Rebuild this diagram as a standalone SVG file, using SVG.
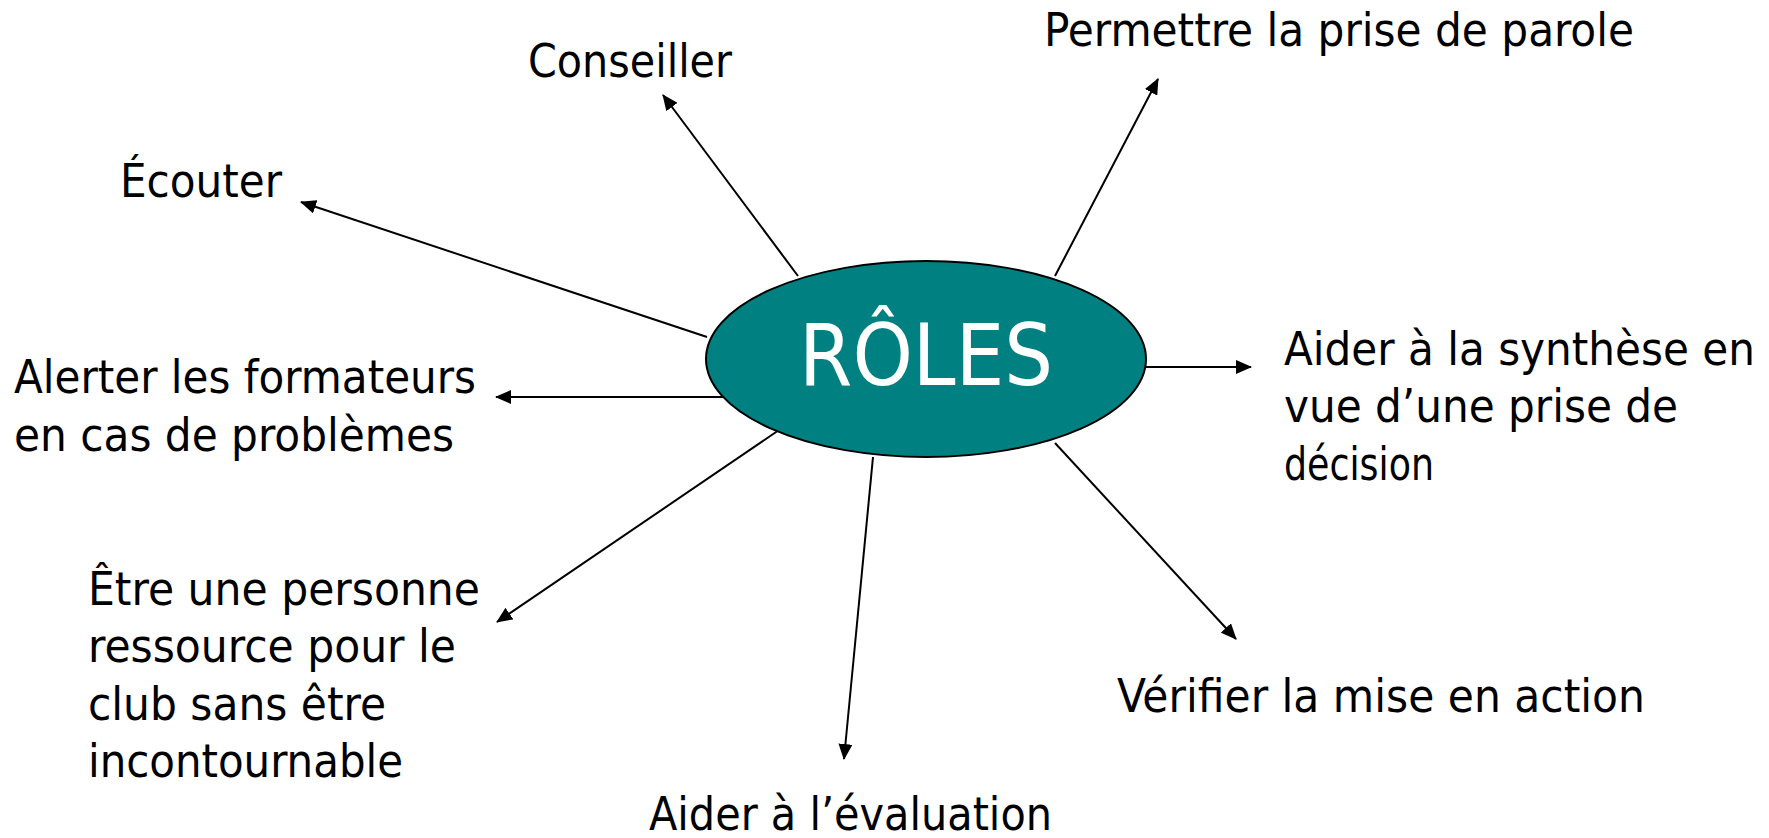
<svg xmlns="http://www.w3.org/2000/svg" width="1769" height="838" viewBox="0 0 1769 838">
<style>
.t{font-family:"DejaVu Sans Condensed","DejaVu Sans",sans-serif;font-size:47px;fill:#000}
.c{font-family:"DejaVu Sans Condensed","DejaVu Sans",sans-serif;font-size:86px;fill:#fff}
.e{stroke:#000;stroke-width:2;fill:none;marker-end:url(#ah)}
</style>
<defs>
<marker id="ah" markerUnits="userSpaceOnUse" markerWidth="16" markerHeight="14" refX="15" refY="7" orient="auto" viewBox="0 0 16 14">
<path d="M0,0 L16,7 L0,14 z" fill="#000"/>
</marker>
</defs>
<rect width="1769" height="838" fill="#fff"/>
<g id="connectors">
<line class="e" x1="798" y1="276" x2="663" y2="95"/>
<line class="e" x1="707" y1="337" x2="301" y2="202"/>
<line class="e" x1="1055" y1="276" x2="1158" y2="79"/>
<line class="e" x1="1146" y1="367" x2="1251" y2="367"/>
<line class="e" x1="723" y1="397" x2="496" y2="397"/>
<line class="e" x1="782" y1="428" x2="497" y2="622"/>
<line class="e" x1="873" y1="457" x2="844" y2="759"/>
<line class="e" x1="1055" y1="443" x2="1236" y2="639"/>
</g>
<g id="center">
<ellipse cx="926" cy="359" rx="220" ry="98" fill="#008080" stroke="#000" stroke-width="2"/>
<text class="c" x="799" y="385" textLength="254" lengthAdjust="spacingAndGlyphs">RÔLES</text>
</g>
<g id="conseiller"><text class="t" x="528" y="77" textLength="204" lengthAdjust="spacingAndGlyphs">Conseiller</text></g>
<g id="ecouter"><text class="t" x="120" y="197" textLength="162" lengthAdjust="spacingAndGlyphs">Écouter</text></g>
<g id="permettre"><text class="t" x="1044" y="46" textLength="590" lengthAdjust="spacingAndGlyphs">Permettre la prise de parole</text></g>
<g id="synthese">
<text class="t" x="1284" y="365" textLength="471" lengthAdjust="spacingAndGlyphs">Aider à la synthèse en</text>
<text class="t" x="1284" y="422" textLength="394" lengthAdjust="spacingAndGlyphs">vue d’une prise de</text>
<text class="t" x="1284" y="480" textLength="150" lengthAdjust="spacingAndGlyphs">décision</text>
</g>
<g id="alerter">
<text class="t" x="14" y="393" textLength="462" lengthAdjust="spacingAndGlyphs">Alerter les formateurs</text>
<text class="t" x="14" y="451" textLength="440" lengthAdjust="spacingAndGlyphs">en cas de problèmes</text>
</g>
<g id="ressource">
<text class="t" x="88" y="605" textLength="392" lengthAdjust="spacingAndGlyphs">Être une personne</text>
<text class="t" x="88" y="662" textLength="368" lengthAdjust="spacingAndGlyphs">ressource pour le</text>
<text class="t" x="88" y="720" textLength="298" lengthAdjust="spacingAndGlyphs">club sans être</text>
<text class="t" x="88" y="777" textLength="315" lengthAdjust="spacingAndGlyphs">incontournable</text>
</g>
<g id="verifier"><text class="t" x="1117" y="712" textLength="528" lengthAdjust="spacingAndGlyphs">Vérifier la mise en action</text></g>
<g id="evaluation"><text class="t" x="649" y="830" textLength="403" lengthAdjust="spacingAndGlyphs">Aider à l’évaluation</text></g>
</svg>
